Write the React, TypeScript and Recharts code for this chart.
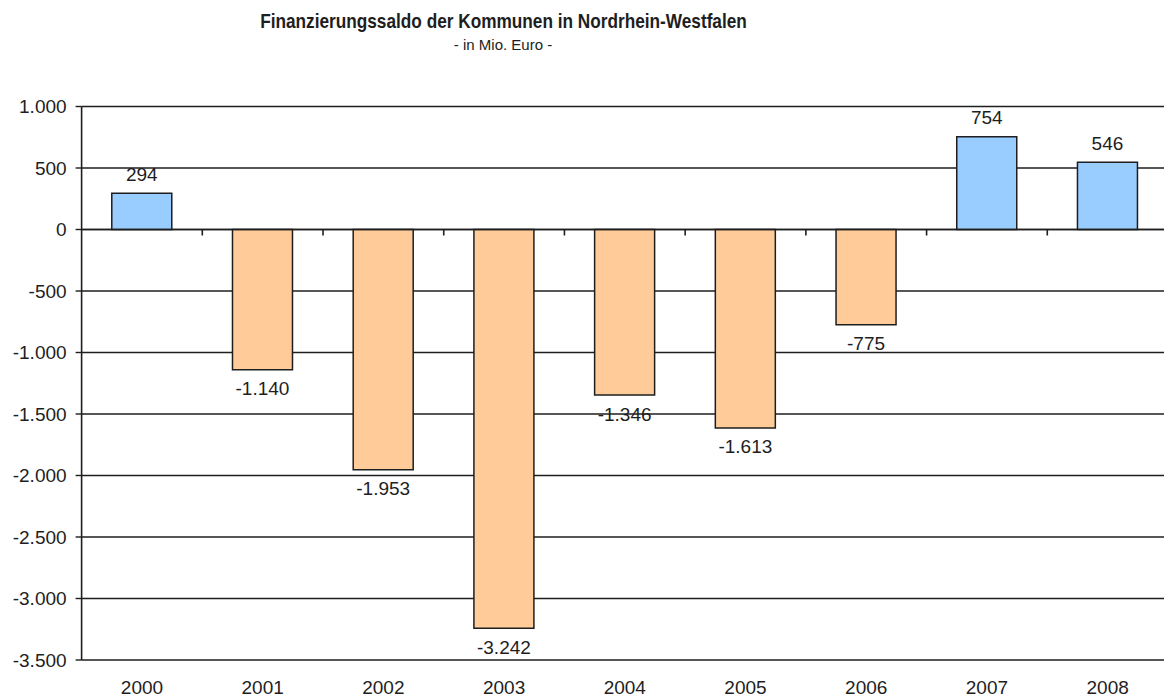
import React from 'react';
import { BarChart, Bar, Cell, XAxis, YAxis, CartesianGrid, LabelList, ReferenceLine } from 'recharts';

const YEARS = ['2000', '2001', '2002', '2003', '2004', '2005', '2006', '2007', '2008'];
const SALDO = [294, -1140, -1953, -3242, -1346, -1613, -775, 754, 546];
const Y_TICKS = [1000, 500, 0, -500, -1000, -1500, -2000, -2500, -3000, -3500];

const COLORS = {
    positive: '#99ccff',
    negative: '#ffcc99',
    ink: '#1e1e1e',
};

// German number format: 1.000 / -3.242
const fmt = (v: number) => {
    const s = Math.abs(v).toString().replace(/\B(?=(\d{3})+(?!\d))/g, '.');
    return (v < 0 ? '-' : '') + s;
};

const data = YEARS.map((year, i) => ({ year, saldo: SALDO[i] }));

const renderValueLabel = (props: any) => {
    const x = Number(props.x);
    const y = Number(props.y);
    const width = Number(props.width);
    const height = Number(props.height);
    const value = Number(props.value);
    const top = Math.min(y, y + height);
    const bottom = Math.max(y, y + height);
    const cy = value >= 0 ? top - 19 : bottom + 19;
    return (
        <text x={x + width / 2} y={cy} textAnchor="middle" dominantBaseline="central" fontSize={19} fill={COLORS.ink}>
            {fmt(value)}
        </text>
    );
};

// zero line with the category tick marks hanging below it
const ZeroLine = (props: any) => {
    const { x1, y1, x2 } = props;
    const band = (x2 - x1) / YEARS.length;
    return (
        <g>
            <line x1={x1} y1={y1} x2={x2} y2={y1} stroke={COLORS.ink} strokeWidth={1.6} />
            {YEARS.map((_, i) => (
                <line key={i} x1={x1 + band * (i + 1)} y1={y1} x2={x1 + band * (i + 1)} y2={y1 + 6} stroke={COLORS.ink} strokeWidth={1.6} />
            ))}
        </g>
    );
};

export default function App() {
    return (
        <div
            style={{
                position: 'absolute',
                left: 0,
                top: 0,
                width: 1164,
                height: 700,
                overflow: 'hidden',
                background: '#fff',
                fontFamily: '"Liberation Sans", Arial, sans-serif',
                color: COLORS.ink,
            }}
        >
            <div
                style={{
                    position: 'absolute',
                    left: 0,
                    top: 10,
                    width: 1007,
                    textAlign: 'center',
                    fontSize: 21,
                    lineHeight: '21px',
                    fontWeight: 'bold',
                    transform: 'scaleX(0.82)',
                }}
            >
                Finanzierungssaldo der Kommunen in Nordrhein-Westfalen
            </div>
            <div
                style={{
                    position: 'absolute',
                    left: 0,
                    top: 37,
                    width: 1006,
                    textAlign: 'center',
                    fontSize: 15,
                    lineHeight: '15px',
                }}
            >
                - in Mio. Euro -
            </div>

            <div style={{ position: 'absolute', left: 0, top: 0 }}>
                <BarChart
                    width={1168}
                    height={700}
                    data={data}
                    margin={{ top: 106.5, right: 0, bottom: 0, left: 0 }}
                    barCategoryGap="25%"
                >
                    <CartesianGrid horizontal vertical={false} stroke={COLORS.ink} strokeWidth={1.4} />
                    <XAxis
                        dataKey="year"
                        axisLine={false}
                        tickLine={false}
                        tickMargin={15}
                        height={40}
                        interval={0}
                        tick={{ fill: COLORS.ink, fontSize: 19 }}
                    />
                    <YAxis
                        width={81.6}
                        domain={[-3500, 1000]}
                        ticks={Y_TICKS}
                        interval={0}
                        tickFormatter={fmt}
                        tickSize={6}
                        tickMargin={9}
                        axisLine={{ stroke: COLORS.ink, strokeWidth: 1.6 }}
                        tickLine={{ stroke: COLORS.ink, strokeWidth: 1.4 }}
                        tick={{ fill: COLORS.ink, fontSize: 19 }}
                    />
                    <Bar dataKey="saldo" stroke={COLORS.ink} strokeWidth={1.5} isAnimationActive={false}>
                        {data.map((d, i) => (
                            <Cell key={`cell-${i}`} fill={d.saldo >= 0 ? COLORS.positive : COLORS.negative} />
                        ))}
                        <LabelList dataKey="saldo" content={renderValueLabel} />
                    </Bar>
                    <ReferenceLine y={0} shape={ZeroLine} />
                </BarChart>
            </div>
        </div>
    );
}
